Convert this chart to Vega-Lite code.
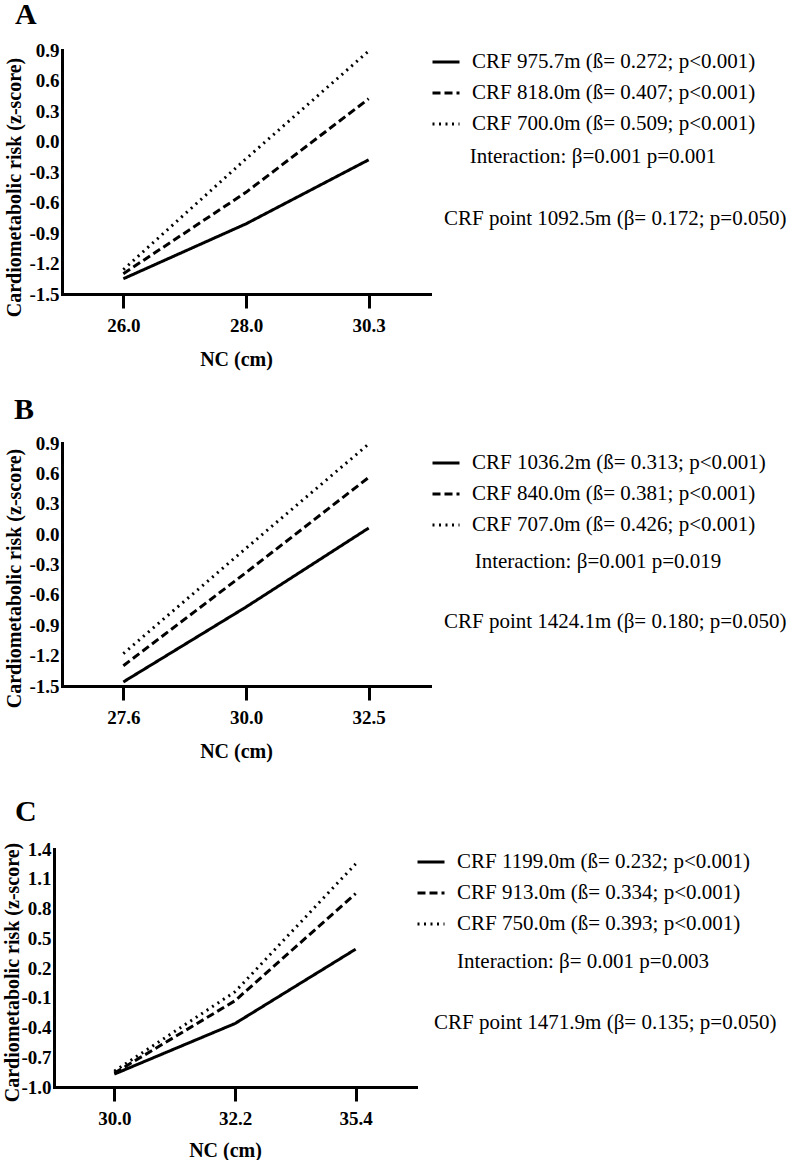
{
  "$schema": "https://vega.github.io/schema/vega-lite/v6.json",
  "background": "white",
  "padding": {"left": 0, "top": 0, "right": 0, "bottom": 0},
  "config": {
    "font": "Liberation Serif",
    "locale": {"number": {"decimal": ".", "thousands": ",", "grouping": [3], "currency": ["$", ""], "minus": "-"}},
    "view": {"stroke": null},
    "style": {"guide-label": {"font": "Liberation Serif"}, "guide-title": {"font": "Liberation Serif"}},
    "axis": {"domainColor": "black", "domainWidth": 3, "domainCap": "square", "tickColor": "black", "tickWidth": 3, "labelFont": "Liberation Serif", "labelFontWeight": "bold", "labelFontSize": 19, "labelColor": "black", "titleFont": "Liberation Serif", "titleFontWeight": "bold", "titleFontSize": 20, "titleColor": "black", "grid": false},
    "axisY": {"tickSize": 0, "labelPadding": 3},
    "axisX": {"tickSize": 14, "labelPadding": 8, "labelAngle": 0, "titlePadding": 14},
    "title": {"font": "Liberation Serif", "fontSize": 30, "fontWeight": "bold", "anchor": "start", "frame": "group", "color": "black", "baseline": "alphabetic"},
    "legend": {"orient": "none", "symbolType": "stroke", "symbolStrokeColor": "black", "symbolStrokeWidth": 3, "symbolSize": 729, "labelFont": "Liberation Serif", "labelFontSize": 21, "labelColor": "black", "labelOffset": 11, "labelLimit": 0, "rowPadding": 6, "titleFont": "Liberation Serif", "titleFontSize": 21, "titleFontWeight": "normal", "titleColor": "black", "titleOrient": "bottom", "titleAnchor": "middle", "titleAlign": "center", "titlePadding": 11, "titleLimit": 0, "padding": 0}
  },
  "datasets": {
    "panelA": [
      {"nc": "26.0", "crf": "CRF 975.7m (ß= 0.272; p<0.001)", "risk": -1.35, "note": "CRF point 1092.5m (β= 0.172; p=0.050)"},
      {"nc": "28.0", "crf": "CRF 975.7m (ß= 0.272; p<0.001)", "risk": -0.81, "note": "CRF point 1092.5m (β= 0.172; p=0.050)"},
      {"nc": "30.3", "crf": "CRF 975.7m (ß= 0.272; p<0.001)", "risk": -0.18, "note": "CRF point 1092.5m (β= 0.172; p=0.050)"},
      {"nc": "26.0", "crf": "CRF 818.0m (ß= 0.407; p<0.001)", "risk": -1.30, "note": "CRF point 1092.5m (β= 0.172; p=0.050)"},
      {"nc": "28.0", "crf": "CRF 818.0m (ß= 0.407; p<0.001)", "risk": -0.50, "note": "CRF point 1092.5m (β= 0.172; p=0.050)"},
      {"nc": "30.3", "crf": "CRF 818.0m (ß= 0.407; p<0.001)", "risk": 0.42, "note": "CRF point 1092.5m (β= 0.172; p=0.050)"},
      {"nc": "26.0", "crf": "CRF 700.0m (ß= 0.509; p<0.001)", "risk": -1.26, "note": "CRF point 1092.5m (β= 0.172; p=0.050)"},
      {"nc": "28.0", "crf": "CRF 700.0m (ß= 0.509; p<0.001)", "risk": -0.17, "note": "CRF point 1092.5m (β= 0.172; p=0.050)"},
      {"nc": "30.3", "crf": "CRF 700.0m (ß= 0.509; p<0.001)", "risk": 0.89, "note": "CRF point 1092.5m (β= 0.172; p=0.050)"}
    ],
    "panelB": [
      {"nc": "27.6", "crf": "CRF 1036.2m (ß= 0.313; p<0.001)", "risk": -1.46, "note": "CRF point 1424.1m (β= 0.180; p=0.050)"},
      {"nc": "30.0", "crf": "CRF 1036.2m (ß= 0.313; p<0.001)", "risk": -0.72, "note": "CRF point 1424.1m (β= 0.180; p=0.050)"},
      {"nc": "32.5", "crf": "CRF 1036.2m (ß= 0.313; p<0.001)", "risk": 0.06, "note": "CRF point 1424.1m (β= 0.180; p=0.050)"},
      {"nc": "27.6", "crf": "CRF 840.0m (ß= 0.381; p<0.001)", "risk": -1.30, "note": "CRF point 1424.1m (β= 0.180; p=0.050)"},
      {"nc": "30.0", "crf": "CRF 840.0m (ß= 0.381; p<0.001)", "risk": -0.38, "note": "CRF point 1424.1m (β= 0.180; p=0.050)"},
      {"nc": "32.5", "crf": "CRF 840.0m (ß= 0.381; p<0.001)", "risk": 0.56, "note": "CRF point 1424.1m (β= 0.180; p=0.050)"},
      {"nc": "27.6", "crf": "CRF 707.0m (ß= 0.426; p<0.001)", "risk": -1.18, "note": "CRF point 1424.1m (β= 0.180; p=0.050)"},
      {"nc": "30.0", "crf": "CRF 707.0m (ß= 0.426; p<0.001)", "risk": -0.14, "note": "CRF point 1424.1m (β= 0.180; p=0.050)"},
      {"nc": "32.5", "crf": "CRF 707.0m (ß= 0.426; p<0.001)", "risk": 0.89, "note": "CRF point 1424.1m (β= 0.180; p=0.050)"}
    ],
    "panelC": [
      {"nc": "30.0", "crf": "CRF 1199.0m (ß= 0.232; p<0.001)", "risk": -0.87, "note": "CRF point 1471.9m (β= 0.135; p=0.050)"},
      {"nc": "32.2", "crf": "CRF 1199.0m (ß= 0.232; p<0.001)", "risk": -0.36, "note": "CRF point 1471.9m (β= 0.135; p=0.050)"},
      {"nc": "35.4", "crf": "CRF 1199.0m (ß= 0.232; p<0.001)", "risk": 0.39, "note": "CRF point 1471.9m (β= 0.135; p=0.050)"},
      {"nc": "30.0", "crf": "CRF 913.0m (ß= 0.334; p<0.001)", "risk": -0.86, "note": "CRF point 1471.9m (β= 0.135; p=0.050)"},
      {"nc": "32.2", "crf": "CRF 913.0m (ß= 0.334; p<0.001)", "risk": -0.13, "note": "CRF point 1471.9m (β= 0.135; p=0.050)"},
      {"nc": "35.4", "crf": "CRF 913.0m (ß= 0.334; p<0.001)", "risk": 0.95, "note": "CRF point 1471.9m (β= 0.135; p=0.050)"},
      {"nc": "30.0", "crf": "CRF 750.0m (ß= 0.393; p<0.001)", "risk": -0.84, "note": "CRF point 1471.9m (β= 0.135; p=0.050)"},
      {"nc": "32.2", "crf": "CRF 750.0m (ß= 0.393; p<0.001)", "risk": -0.04, "note": "CRF point 1471.9m (β= 0.135; p=0.050)"},
      {"nc": "35.4", "crf": "CRF 750.0m (ß= 0.393; p<0.001)", "risk": 1.25, "note": "CRF point 1471.9m (β= 0.135; p=0.050)"}
    ]
  },
  "columns": 1,
  "spacing": 26,
  "resolve": {"scale": {"x": "independent", "y": "independent", "strokeDash": "independent", "color": "independent"}, "legend": {"strokeDash": "independent", "color": "independent"}, "axis": {"x": "independent", "y": "independent"}},
  "concat": [
    {
      "spacing": 0,
      "resolve": {"scale": {"x": "independent", "y": "independent", "strokeDash": "independent", "color": "independent"}, "legend": {"strokeDash": "independent", "color": "independent"}, "axis": {"x": "independent", "y": "independent"}},
      "hconcat": [
        {"width": 3, "height": 1, "data": {"values": []}, "mark": {"type": "point"}, "encoding": {}},
        {
          "data": {"name": "panelA"},
          "width": 368,
          "height": 244,
          "title": {"text": "A", "dx": -47, "offset": 11},
          "mark": {"type": "line", "color": "black", "strokeWidth": 3},
          "encoding": {
            "x": {"field": "nc", "type": "ordinal", "sort": null, "axis": {"title": "NC (cm)", "titleX": 174, "labelFont": "Liberation Serif", "titleFont": "Liberation Serif"}},
            "y": {"field": "risk", "type": "quantitative", "scale": {"domain": [-1.5, 0.9], "nice": false, "zero": false}, "axis": {"title": "Cardiometabolic risk (z-score)", "values": [-1.5, -1.2, -0.9, -0.6, -0.3, 0, 0.3, 0.6, 0.9], "format": ".1f", "titleY": 137, "titleX": -38, "labelFont": "Liberation Serif", "titleFont": "Liberation Serif"}},
            "strokeDash": {"field": "crf", "type": "nominal", "scale": {"domain": ["CRF 975.7m (ß= 0.272; p<0.001)", "CRF 818.0m (ß= 0.407; p<0.001)", "CRF 700.0m (ß= 0.509; p<0.001)"], "range": [[1, 0], [8, 4], [2, 4.5]]}, "legend": {"orient": "none", "legendX": 369, "legendY": -3, "titlePadding": 12, "title": "Interaction: β=0.001 p=0.001"}},
            "color": {"field": "note", "type": "nominal", "scale": {"range": ["black"]}, "legend": {"orient": "none", "legendX": 361, "legendY": 158, "title": null, "symbolOpacity": 0, "symbolSize": 1, "symbolStrokeWidth": 0, "labelOffset": 0}}
          }
        }
      ]
    },
    {
      "columns": 1,
      "spacing": 36,
      "resolve": {"scale": {"x": "independent", "y": "independent", "strokeDash": "independent", "color": "independent"}, "legend": {"strokeDash": "independent", "color": "independent"}, "axis": {"x": "independent", "y": "independent"}},
      "concat": [
        {
          "spacing": 0,
          "resolve": {"scale": {"x": "independent", "y": "independent", "strokeDash": "independent", "color": "independent"}, "legend": {"strokeDash": "independent", "color": "independent"}, "axis": {"x": "independent", "y": "independent"}},
          "hconcat": [
            {"width": 3, "height": 1, "data": {"values": []}, "mark": {"type": "point"}, "encoding": {}},
            {
              "data": {"name": "panelB"},
              "width": 368,
              "height": 243,
              "title": {"text": "B", "dx": -48, "offset": 9},
              "mark": {"type": "line", "color": "black", "strokeWidth": 3},
              "encoding": {
                "x": {"field": "nc", "type": "ordinal", "sort": null, "axis": {"title": "NC (cm)", "titleX": 174, "labelFont": "Liberation Serif", "titleFont": "Liberation Serif"}},
                "y": {"field": "risk", "type": "quantitative", "scale": {"domain": [-1.5, 0.9], "nice": false, "zero": false}, "axis": {"title": "Cardiometabolic risk (z-score)", "values": [-1.5, -1.2, -0.9, -0.6, -0.3, 0, 0.3, 0.6, 0.9], "format": ".1f", "titleY": 135, "titleX": -38, "labelFont": "Liberation Serif", "titleFont": "Liberation Serif"}},
                "strokeDash": {"field": "crf", "type": "nominal", "scale": {"domain": ["CRF 1036.2m (ß= 0.313; p<0.001)", "CRF 840.0m (ß= 0.381; p<0.001)", "CRF 707.0m (ß= 0.426; p<0.001)"], "range": [[1, 0], [8, 4], [2, 4.5]]}, "legend": {"orient": "none", "legendX": 369, "legendY": 5, "titlePadding": 16, "title": "Interaction: β=0.001 p=0.019"}},
                "color": {"field": "note", "type": "nominal", "scale": {"range": ["black"]}, "legend": {"orient": "none", "legendX": 361, "legendY": 168, "title": null, "symbolOpacity": 0, "symbolSize": 1, "symbolStrokeWidth": 0, "labelOffset": 0}}
              }
            }
          ]
        },
        {
          "spacing": 0,
          "resolve": {"scale": {"x": "independent", "y": "independent", "strokeDash": "independent", "color": "independent"}, "legend": {"strokeDash": "independent", "color": "independent"}, "axis": {"x": "independent", "y": "independent"}},
          "hconcat": [
            {"width": 1, "height": 1, "data": {"values": []}, "mark": {"type": "point"}, "encoding": {}},
            {
              "data": {"name": "panelC"},
              "width": 362,
              "height": 238,
              "title": {"text": "C", "dx": -39, "offset": 13},
              "mark": {"type": "line", "color": "black", "strokeWidth": 3},
              "encoding": {
                "x": {"field": "nc", "type": "ordinal", "sort": null, "axis": {"title": "NC (cm)", "titleX": 171, "titlePadding": 12, "labelFont": "Liberation Serif", "titleFont": "Liberation Serif"}},
                "y": {"field": "risk", "type": "quantitative", "scale": {"domain": [-1.0, 1.4], "nice": false, "zero": false}, "axis": {"title": "Cardiometabolic risk (z-score)", "values": [-1.0, -0.7, -0.4, -0.1, 0.2, 0.5, 0.8, 1.1, 1.4], "format": ".1f", "titleY": 123, "titleX": -32, "labelFont": "Liberation Serif", "titleFont": "Liberation Serif"}},
                "strokeDash": {"field": "crf", "type": "nominal", "scale": {"domain": ["CRF 1199.0m (ß= 0.232; p<0.001)", "CRF 913.0m (ß= 0.334; p<0.001)", "CRF 750.0m (ß= 0.393; p<0.001)"], "range": [[1, 0], [8, 4], [2, 4.5]]}, "legend": {"orient": "none", "legendX": 362, "legendY": -2, "titlePadding": 17, "title": "Interaction: β= 0.001 p=0.003"}},
                "color": {"field": "note", "type": "nominal", "scale": {"range": ["black"]}, "legend": {"orient": "none", "legendX": 359, "legendY": 163, "title": null, "symbolOpacity": 0, "symbolSize": 1, "symbolStrokeWidth": 0, "labelOffset": 0}}
              }
            }
          ]
        }
      ]
    }
  ]
}
